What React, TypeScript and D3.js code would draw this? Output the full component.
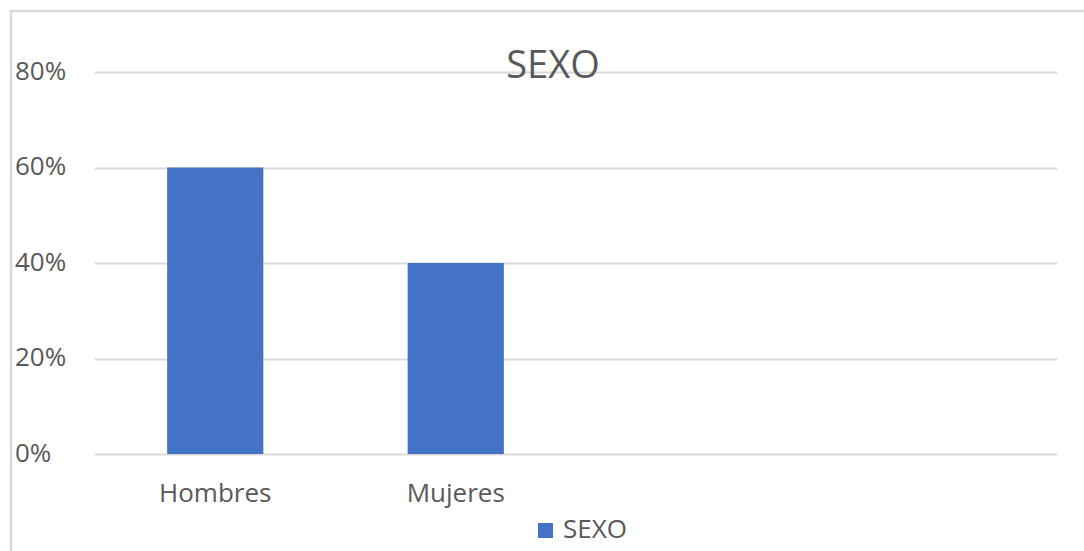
import React, { useEffect, useRef } from 'react';
import * as d3 from 'd3';

// data
const categories = ['Hombres', 'Mujeres', 'slot3', 'slot4'];
const categoryLabels = ['Hombres', 'Mujeres', '', ''];
const sexoValues = [0.6, 0.4, null, null];
const yTicks = [0, 0.2, 0.4, 0.6, 0.8];
const seriesName = 'SEXO';
const chartTitle = 'SEXO';

const App = () => {
  const svgRef = useRef<SVGSVGElement>(null);

  useEffect(() => {
    const svg = d3.select(svgRef.current);
    const width = 1084;
    const height = 551;
    const margin = { top: 72, right: 27, bottom: 97, left: 95 };
    const font = "'Open Sans', sans-serif";
    const textColor = '#595959';

    svg.selectAll('*').remove();
    svg.attr('width', width).attr('height', height);

    svg.append('rect')
      .attr('x', 0).attr('y', 0).attr('width', width).attr('height', height)
      .attr('fill', '#fff');

    // chart area border (only left/top visible in the crop)
    svg.append('rect')
      .attr('x', 11).attr('y', 11)
      .attr('width', width + 20).attr('height', height + 20)
      .attr('fill', 'none')
      .attr('stroke', '#d9d9d9')
      .attr('stroke-width', 2.5);

    const x = d3.scaleBand<string>()
      .domain(categories)
      .range([margin.left, width - margin.right])
      .paddingInner(0.6)
      .paddingOuter(0.3);

    const y = d3.scaleLinear()
      .domain([0, 0.8])
      .range([height - margin.bottom, margin.top]);

    // gridlines
    svg.append('g')
      .selectAll('line')
      .data(yTicks)
      .join('line')
      .attr('x1', margin.left)
      .attr('x2', width - margin.right)
      .attr('y1', d => Math.round(y(d)) + 0.5)
      .attr('y2', d => Math.round(y(d)) + 0.5)
      .attr('stroke', '#d9d9d9')
      .attr('stroke-width', 2);

    // y labels
    svg.append('g')
      .selectAll('text')
      .data(yTicks)
      .join('text')
      .attr('x', 15)
      .attr('y', d => y(d))
      .attr('dy', '0.3em')
      .attr('font-family', font)
      .attr('font-size', 26)
      .attr('fill', textColor)
      .text(d => d3.format('.0%')(d));

    // bars
    svg.append('g')
      .selectAll('rect')
      .data(categories.map((c, i) => ({ c, v: sexoValues[i] })).filter(d => d.v != null))
      .join('rect')
      .attr('x', d => x(d.c)!)
      .attr('y', d => y(d.v as number))
      .attr('width', x.bandwidth())
      .attr('height', d => y(0) - y(d.v as number))
      .attr('fill', '#4472C4');

    // category labels
    svg.append('g')
      .selectAll('text')
      .data(categories.map((c, i) => ({ c, label: categoryLabels[i] })))
      .join('text')
      .attr('x', d => x(d.c)! + x.bandwidth() / 2)
      .attr('y', height - margin.bottom + 48)
      .attr('text-anchor', 'middle')
      .attr('font-family', font)
      .attr('font-size', 26)
      .attr('fill', textColor)
      .text(d => d.label);

    // title
    svg.append('text')
      .attr('x', 553)
      .attr('y', 78)
      .attr('text-anchor', 'middle')
      .attr('font-family', font)
      .attr('font-size', 38)
      .attr('fill', textColor)
      .text(chartTitle);

    // legend
    const legend = svg.append('g').attr('transform', 'translate(538,523)');
    legend.append('rect')
      .attr('width', 15).attr('height', 15)
      .attr('fill', '#4472C4');
    legend.append('text')
      .attr('x', 25)
      .attr('y', 15)
      .attr('font-family', font)
      .attr('font-size', 26)
      .attr('fill', textColor)
      .text(seriesName);
  }, []);

  return (
    <svg ref={svgRef} style={{ position: 'absolute', left: 0, top: 0, display: 'block' }}></svg>
  );
};

export default App;
